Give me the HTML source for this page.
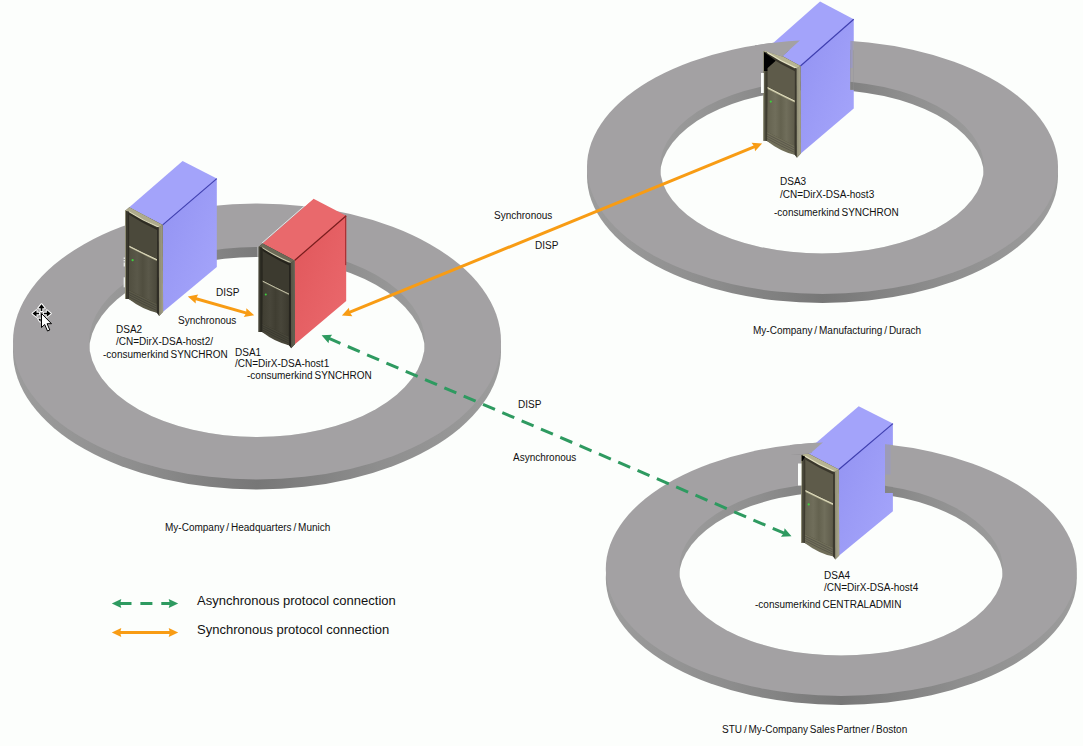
<!DOCTYPE html>
<html><head><meta charset="utf-8"><style>
html,body{margin:0;padding:0;background:#fcfefc;}
svg{display:block;}
text{font-family:"Liberation Sans",sans-serif;fill:#111;}
</style></head><body>
<svg width="1083" height="746" viewBox="0 0 1083 746">
<defs>
<clipPath id="hole_r1"><ellipse cx="257" cy="342" rx="168" ry="95"/></clipPath>
<linearGradient id="wallg_r1" gradientUnits="userSpaceOnUse" x1="13" y1="0" x2="501" y2="0">
  <stop offset="0" stop-color="#9c9c9c"/><stop offset="0.25" stop-color="#8e8e8e"/><stop offset="0.5" stop-color="#777777"/><stop offset="0.75" stop-color="#8e8e8e"/><stop offset="1" stop-color="#9c9c9c"/>
</linearGradient>
<linearGradient id="iwallg_r1" gradientUnits="userSpaceOnUse" x1="89" y1="0" x2="425" y2="0">
  <stop offset="0" stop-color="#9c9c9c"/><stop offset="0.25" stop-color="#8e8e8e"/><stop offset="0.5" stop-color="#7a7a7a"/><stop offset="0.75" stop-color="#8e8e8e"/><stop offset="1" stop-color="#9c9c9c"/>
</linearGradient>
<clipPath id="hole_r2"><ellipse cx="822" cy="167" rx="162" ry="86.5"/></clipPath>
<linearGradient id="wallg_r2" gradientUnits="userSpaceOnUse" x1="587.0" y1="0" x2="1058.0" y2="0">
  <stop offset="0" stop-color="#9c9c9c"/><stop offset="0.25" stop-color="#8e8e8e"/><stop offset="0.5" stop-color="#777777"/><stop offset="0.75" stop-color="#8e8e8e"/><stop offset="1" stop-color="#9c9c9c"/>
</linearGradient>
<linearGradient id="iwallg_r2" gradientUnits="userSpaceOnUse" x1="660" y1="0" x2="984" y2="0">
  <stop offset="0" stop-color="#9c9c9c"/><stop offset="0.25" stop-color="#8e8e8e"/><stop offset="0.5" stop-color="#7a7a7a"/><stop offset="0.75" stop-color="#8e8e8e"/><stop offset="1" stop-color="#9c9c9c"/>
</linearGradient>
<clipPath id="hole_r3"><ellipse cx="841" cy="569" rx="162" ry="86.5"/></clipPath>
<linearGradient id="wallg_r3" gradientUnits="userSpaceOnUse" x1="605.8" y1="0" x2="1076.8" y2="0">
  <stop offset="0" stop-color="#9c9c9c"/><stop offset="0.25" stop-color="#8e8e8e"/><stop offset="0.5" stop-color="#777777"/><stop offset="0.75" stop-color="#8e8e8e"/><stop offset="1" stop-color="#9c9c9c"/>
</linearGradient>
<linearGradient id="iwallg_r3" gradientUnits="userSpaceOnUse" x1="679" y1="0" x2="1003" y2="0">
  <stop offset="0" stop-color="#9c9c9c"/><stop offset="0.25" stop-color="#8e8e8e"/><stop offset="0.5" stop-color="#7a7a7a"/><stop offset="0.75" stop-color="#8e8e8e"/><stop offset="1" stop-color="#9c9c9c"/>
</linearGradient>
<g id="r1">
  <ellipse cx="257" cy="351.5" rx="244" ry="138" fill="url(#wallg_r1)"/>
  <ellipse cx="257" cy="341.5" rx="244" ry="138" fill="#a3a1a3"/>
  <g clip-path="url(#hole_r1)">
    <rect x="87" y="245" width="340" height="194" fill="url(#iwallg_r1)"/>
    <ellipse cx="257" cy="352" rx="168" ry="95" fill="#fcfefc"/>
  </g>
</g>
<g id="r2">
  <ellipse cx="822.5" cy="176" rx="235.5" ry="127" fill="url(#wallg_r2)"/>
  <ellipse cx="822.5" cy="167" rx="235.5" ry="127" fill="#a3a1a3"/>
  <g clip-path="url(#hole_r2)">
    <rect x="658" y="78.5" width="328" height="177.0" fill="url(#iwallg_r2)"/>
    <ellipse cx="822" cy="176" rx="162" ry="86.5" fill="#fcfefc"/>
  </g>
</g>
<g id="r3">
  <ellipse cx="841.3" cy="578" rx="235.5" ry="127" fill="url(#wallg_r3)"/>
  <ellipse cx="841.3" cy="569" rx="235.5" ry="127" fill="#a3a1a3"/>
  <g clip-path="url(#hole_r3)">
    <rect x="677" y="480.5" width="328" height="177.0" fill="url(#iwallg_r3)"/>
    <ellipse cx="841" cy="578" rx="162" ry="86.5" fill="#fcfefc"/>
  </g>
</g>
<clipPath id="cw3"><polygon points="755,30 799.8,30 799.8,40.4 782.1,56.5 763.9,50.6 755,50"/></clipPath>
<clipPath id="cr3"><rect x="850.4" y="30" width="3.4" height="59.7"/></clipPath>
<clipPath id="cw4"><polygon points="790,430 822.8,430 822.8,442.4 810.8,453.1 801.7,454.4 790,454"/></clipPath>
<clipPath id="cr4"><rect x="885.1" y="430" width="7.8" height="63"/></clipPath>
</defs>
<rect width="1083" height="746" fill="#fcfefc"/>
<use href="#r1"/><use href="#r2"/><use href="#r3"/>

<g transform="translate(125.6,209.7) scale(1.0,1.0)">
  <defs><linearGradient id="sideg1" x1="0" y1="0" x2="1" y2="1"><stop offset="0" stop-color="#9292f2"/><stop offset="1" stop-color="#a6a6fb"/></linearGradient>
  <linearGradient id="lowg1" x1="0" y1="0" x2="1" y2="0"><stop offset="0" stop-color="#504e3f"/><stop offset="0.3" stop-color="#5a5849"/><stop offset="0.5" stop-color="#504e3f"/><stop offset="0.7" stop-color="#5a5849"/><stop offset="1" stop-color="#4b493b"/></linearGradient>
  <linearGradient id="colRg1" x1="0" y1="0" x2="1" y2="0"><stop offset="0" stop-color="#8a8771"/><stop offset="1" stop-color="#a29f85"/></linearGradient></defs>
  <polygon points="3.7,-2.5 57,-48.7 91.2,-31.1 37.1,15.2" fill="#a3a3fa"/>
  
  <polygon points="37.1,15.2 91.2,-31.1 91.2,57.3 37.5,102" fill="url(#sideg1)"/>
  <line x1="37.1" y1="15.2" x2="91.2" y2="-31.1" stroke="#3e3eb0" stroke-width="1.2"/>
  
  <polygon points="-0.3,1 3.7,-2.5 37.1,15.2 37.5,102 33.5,106.2 31.2,103 3.1,89.4 -0.6,89.3" fill="#3a382d"/>
  <polygon points="3.3,2.5 32,18 31.5,50.8 3.8,37.2" fill="#4b493b"/>
  <path d="M3.5,2.8 Q17,11.4 32,18.3 L32,20.6 Q17,13.7 3.5,5.1 Z" fill="#2e2c23"/>
  <polygon points="3.8,37.2 31.3,50.8 31,94.1 3.1,80.4" fill="url(#lowg1)"/>
  <path d="M3.1,80.4 L31,94.1 L31.2,103 Q17,100 3.1,89.4 Z" fill="#5a5847"/>
  <g stroke="#44423a" stroke-width="0.8" fill="none">
    <path d="M3.1,82.6 L31,96.3"/><path d="M3.1,84.8 Q17,92 31,98.5"/><path d="M3.1,87 Q17,94.5 31,100.7"/>
  </g>
  <path d="M-0.3,1 L3.7,-2.5 L37.1,15.2 L33.5,17.6 Q17,10.6 3.3,1.8 Z" fill="#aeab8c"/>
  <path d="M3.3,1.9 Q17,10.7 33.3,17.6" stroke="#e6e3c5" stroke-width="1.1" fill="none"/>
  <polygon points="31.4,17.5 33.2,17.3 33.2,104.5 31.4,103" fill="#2f2d25"/>
  <polygon points="33.2,17.3 37.1,15.2 37.5,102 33.5,106.2" fill="url(#colRg1)"/>
  <polygon points="-0.6,1 0.4,0.2 0.4,89.3 -0.6,89.3" fill="#8c8a72"/>
  <polygon points="2.6,2 3.5,2.6 3.3,89.4 2.6,89.4" fill="#2e2c23"/>
  <path d="M3.8,36.2 Q17,43 31.3,49.6 L31.3,51.3 Q17,44.5 3.8,37.9 Z" fill="#aeab8c"/>
  <path d="M3.8,36.6 Q17,43.4 31.3,50" stroke="#e6e3c5" stroke-width="0.9" fill="none"/>
  <circle cx="7" cy="50.5" r="1.1" fill="#3cd23c"/>
</g>

<g transform="translate(259.1,245.8) scale(0.955,0.965)">
  <defs><linearGradient id="sideg2" x1="0" y1="0" x2="1" y2="1"><stop offset="0" stop-color="#e0565a"/><stop offset="1" stop-color="#eb6a6e"/></linearGradient>
  <linearGradient id="lowg2" x1="0" y1="0" x2="1" y2="0"><stop offset="0" stop-color="#403e32"/><stop offset="0.3" stop-color="#48463a"/><stop offset="0.5" stop-color="#403e32"/><stop offset="0.7" stop-color="#48463a"/><stop offset="1" stop-color="#3c3a2f"/></linearGradient>
  <linearGradient id="colRg2" x1="0" y1="0" x2="1" y2="0"><stop offset="0" stop-color="#555446"/><stop offset="1" stop-color="#646352"/></linearGradient></defs>
  <polygon points="3.7,-2.5 57,-48.7 91.2,-31.1 37.1,15.2" fill="#e9696c"/>
  <line x1="3" y1="-2.8" x2="56.5" y2="-49" stroke="#ffffff" stroke-opacity="0.75" stroke-width="1"/><line x1="-1.1" y1="1" x2="-1.1" y2="13" stroke="#ffffff" stroke-opacity="0.8" stroke-width="1"/>
  <polygon points="37.1,15.2 91.2,-31.1 91.2,57.3 37.5,102" fill="url(#sideg2)"/>
  <line x1="37.1" y1="15.2" x2="91.2" y2="-31.1" stroke="#7a1c1c" stroke-width="1.3"/>
  <line x1="90.7" y1="-31" x2="90.7" y2="20" stroke="#9a2226" stroke-width="1"/>
  <polygon points="-0.3,1 3.7,-2.5 37.1,15.2 37.5,102 33.5,106.2 31.2,103 3.1,89.4 -0.6,89.3" fill="#2e2d24"/>
  <polygon points="3.3,2.5 32,18 31.5,50.8 3.8,37.2" fill="#3c3a2f"/>
  <path d="M3.5,2.8 Q17,11.4 32,18.3 L32,20.6 Q17,13.7 3.5,5.1 Z" fill="#25231c"/>
  <polygon points="3.8,37.2 31.3,50.8 31,94.1 3.1,80.4" fill="url(#lowg2)"/>
  <path d="M3.1,80.4 L31,94.1 L31.2,103 Q17,100 3.1,89.4 Z" fill="#484639"/>
  <g stroke="#36352e" stroke-width="0.8" fill="none">
    <path d="M3.1,82.6 L31,96.3"/><path d="M3.1,84.8 Q17,92 31,98.5"/><path d="M3.1,87 Q17,94.5 31,100.7"/>
  </g>
  <path d="M-0.3,1 L3.7,-2.5 L37.1,15.2 L33.5,17.6 Q17,10.6 3.3,1.8 Z" fill="#6c6a57"/>
  <path d="M3.3,1.9 Q17,10.7 33.3,17.6" stroke="#cfccb1" stroke-width="1.1" fill="none"/>
  <polygon points="31.4,17.5 33.2,17.3 33.2,104.5 31.4,103" fill="#26241e"/>
  <polygon points="33.2,17.3 37.1,15.2 37.5,102 33.5,106.2" fill="url(#colRg2)"/>
  <polygon points="-0.6,1 0.4,0.2 0.4,89.3 -0.6,89.3" fill="#575647"/>
  <polygon points="2.6,2 3.5,2.6 3.3,89.4 2.6,89.4" fill="#25231c"/>
  <path d="M3.8,36.2 Q17,43 31.3,49.6 L31.3,51.3 Q17,44.5 3.8,37.9 Z" fill="#6c6a57"/>
  <path d="M3.8,36.6 Q17,43.4 31.3,50" stroke="#cfccb1" stroke-width="0.9" fill="none"/>
  <circle cx="7" cy="50.5" r="1.1" fill="#3cd23c"/>
</g>

<g transform="translate(763.9,50.6) scale(0.985,1.01)">
  <defs><linearGradient id="sideg3" x1="0" y1="0" x2="1" y2="1"><stop offset="0" stop-color="#9292f2"/><stop offset="1" stop-color="#a6a6fb"/></linearGradient>
  <linearGradient id="lowg3" x1="0" y1="0" x2="1" y2="0"><stop offset="0" stop-color="#64624f"/><stop offset="0.3" stop-color="#706e5b"/><stop offset="0.5" stop-color="#64624f"/><stop offset="0.7" stop-color="#706e5b"/><stop offset="1" stop-color="#5e5b4a"/></linearGradient>
  <linearGradient id="colRg3" x1="0" y1="0" x2="1" y2="0"><stop offset="0" stop-color="#908e77"/><stop offset="1" stop-color="#aaa78c"/></linearGradient></defs>
  <polygon points="3.7,-2.5 57,-48.7 91.2,-31.1 37.1,15.2" fill="#a3a3fa"/>
  
  <polygon points="37.1,15.2 91.2,-31.1 91.2,57.3 37.5,102" fill="url(#sideg3)"/>
  <line x1="37.1" y1="15.2" x2="91.2" y2="-31.1" stroke="#3e3eb0" stroke-width="1.2"/>
  
  <polygon points="-0.3,1 3.7,-2.5 37.1,15.2 37.5,102 33.5,106.2 31.2,103 3.1,89.4 -0.6,89.3" fill="#484638"/>
  <polygon points="3.3,2.5 32,18 31.5,50.8 3.8,37.2" fill="#5e5b4a"/>
  <path d="M3.5,2.8 Q17,11.4 32,18.3 L32,20.6 Q17,13.7 3.5,5.1 Z" fill="#3a372c"/>
  <polygon points="3.8,37.2 31.3,50.8 31,94.1 3.1,80.4" fill="url(#lowg3)"/>
  <path d="M3.1,80.4 L31,94.1 L31.2,103 Q17,100 3.1,89.4 Z" fill="#706e59"/>
  <g stroke="#555248" stroke-width="0.8" fill="none">
    <path d="M3.1,82.6 L31,96.3"/><path d="M3.1,84.8 Q17,92 31,98.5"/><path d="M3.1,87 Q17,94.5 31,100.7"/>
  </g>
  <path d="M-0.3,1 L3.7,-2.5 L37.1,15.2 L33.5,17.6 Q17,10.6 3.3,1.8 Z" fill="#b7b493"/>
  <path d="M3.3,1.9 Q17,10.7 33.3,17.6" stroke="#e6e3c5" stroke-width="1.1" fill="none"/>
  <polygon points="31.4,17.5 33.2,17.3 33.2,104.5 31.4,103" fill="#3b382e"/>
  <polygon points="33.2,17.3 37.1,15.2 37.5,102 33.5,106.2" fill="url(#colRg3)"/>
  <polygon points="-0.6,1 0.4,0.2 0.4,89.3 -0.6,89.3" fill="#939178"/>
  <polygon points="2.6,2 3.5,2.6 3.3,89.4 2.6,89.4" fill="#3a372c"/>
  <path d="M3.8,36.2 Q17,43 31.3,49.6 L31.3,51.3 Q17,44.5 3.8,37.9 Z" fill="#b7b493"/>
  <path d="M3.8,36.6 Q17,43.4 31.3,50" stroke="#e6e3c5" stroke-width="0.9" fill="none"/>
  <circle cx="7" cy="50.5" r="1.1" fill="#3cd23c"/>
</g>

<g transform="translate(801.7,454.4) scale(1.0,0.99)">
  <defs><linearGradient id="sideg4" x1="0" y1="0" x2="1" y2="1"><stop offset="0" stop-color="#9292f2"/><stop offset="1" stop-color="#a6a6fb"/></linearGradient>
  <linearGradient id="lowg4" x1="0" y1="0" x2="1" y2="0"><stop offset="0" stop-color="#64624f"/><stop offset="0.3" stop-color="#706e5b"/><stop offset="0.5" stop-color="#64624f"/><stop offset="0.7" stop-color="#706e5b"/><stop offset="1" stop-color="#5e5b4a"/></linearGradient>
  <linearGradient id="colRg4" x1="0" y1="0" x2="1" y2="0"><stop offset="0" stop-color="#908e77"/><stop offset="1" stop-color="#aaa78c"/></linearGradient></defs>
  <polygon points="3.7,-2.5 57,-48.7 91.2,-31.1 37.1,15.2" fill="#a3a3fa"/>
  
  <polygon points="37.1,15.2 91.2,-31.1 91.2,57.3 37.5,102" fill="url(#sideg4)"/>
  <line x1="37.1" y1="15.2" x2="91.2" y2="-31.1" stroke="#3e3eb0" stroke-width="1.2"/>
  
  <polygon points="-0.3,1 3.7,-2.5 37.1,15.2 37.5,102 33.5,106.2 31.2,103 3.1,89.4 -0.6,89.3" fill="#484638"/>
  <polygon points="3.3,2.5 32,18 31.5,50.8 3.8,37.2" fill="#5e5b4a"/>
  <path d="M3.5,2.8 Q17,11.4 32,18.3 L32,20.6 Q17,13.7 3.5,5.1 Z" fill="#3a372c"/>
  <polygon points="3.8,37.2 31.3,50.8 31,94.1 3.1,80.4" fill="url(#lowg4)"/>
  <path d="M3.1,80.4 L31,94.1 L31.2,103 Q17,100 3.1,89.4 Z" fill="#706e59"/>
  <g stroke="#555248" stroke-width="0.8" fill="none">
    <path d="M3.1,82.6 L31,96.3"/><path d="M3.1,84.8 Q17,92 31,98.5"/><path d="M3.1,87 Q17,94.5 31,100.7"/>
  </g>
  <path d="M-0.3,1 L3.7,-2.5 L37.1,15.2 L33.5,17.6 Q17,10.6 3.3,1.8 Z" fill="#b7b493"/>
  <path d="M3.3,1.9 Q17,10.7 33.3,17.6" stroke="#e6e3c5" stroke-width="1.1" fill="none"/>
  <polygon points="31.4,17.5 33.2,17.3 33.2,104.5 31.4,103" fill="#3b382e"/>
  <polygon points="33.2,17.3 37.1,15.2 37.5,102 33.5,106.2" fill="url(#colRg4)"/>
  <polygon points="-0.6,1 0.4,0.2 0.4,89.3 -0.6,89.3" fill="#939178"/>
  <polygon points="2.6,2 3.5,2.6 3.3,89.4 2.6,89.4" fill="#3a372c"/>
  <path d="M3.8,36.2 Q17,43 31.3,49.6 L31.3,51.3 Q17,44.5 3.8,37.9 Z" fill="#b7b493"/>
  <path d="M3.8,36.6 Q17,43.4 31.3,50" stroke="#e6e3c5" stroke-width="0.9" fill="none"/>
  <circle cx="7" cy="50.5" r="1.1" fill="#3cd23c"/>
</g>
<rect x="123.7" y="257.5" width="1.1" height="1.4" fill="#fcfefc"/><rect x="123.7" y="260" width="1.1" height="1.4" fill="#fcfefc"/><rect x="123.7" y="262.5" width="1.1" height="4" fill="#fcfefc"/><rect x="123.7" y="277.3" width="1.1" height="10" fill="#fcfefc"/>
<use href="#r2" clip-path="url(#cw3)"/>
<use href="#r2" clip-path="url(#cr3)"/>
<rect x="850.4" y="41" width="2.2" height="27" fill="#8f8fe8" fill-opacity="0.45"/>
<polygon points="764,52 775.7,60.8 767.4,68.3 767.4,71 764,71" fill="#000"/>
<rect x="761" y="73" width="2.8" height="20" fill="#fcfefc"/>
<use href="#r3" clip-path="url(#cw4)"/>
<use href="#r3" clip-path="url(#cr4)"/>
<rect x="885.1" y="444.5" width="5.5" height="30" fill="#8f8fe8" fill-opacity="0.3"/>
<polygon points="801.7,455 805,457 802.5,461 801.7,461" fill="#000"/>
<rect x="798" y="463.5" width="3.4" height="22" fill="#fcfefc"/>
<line x1="193.57" y1="298.04" x2="248.43" y2="313.66" stroke="#f89c14" stroke-width="3"/><polygon points="0,0 -9.5,-4.6 -8.3,0 -9.5,4.6" fill="#f89c14" transform="translate(254.2,315.3) rotate(15.888)"/><polygon points="0,0 -9.5,-4.6 -8.3,0 -9.5,4.6" fill="#f89c14" transform="translate(187.8,296.4) rotate(195.888)"/><line x1="347.45" y1="313.23" x2="756.55" y2="145.77" stroke="#f89c14" stroke-width="3"/><polygon points="0,0 -9.5,-4.6 -8.3,0 -9.5,4.6" fill="#f89c14" transform="translate(762.1,143.5) rotate(-22.261)"/><polygon points="0,0 -9.5,-4.6 -8.3,0 -9.5,4.6" fill="#f89c14" transform="translate(341.9,315.5) rotate(157.739)"/><line x1="791.50" y1="536.30" x2="321.60" y2="335.30" stroke="#2e9a60" stroke-width="3" stroke-dasharray="13 8.01" stroke-dashoffset="13.62"/><polygon points="0,0 -9.5,-4.6 -8.3,0 -9.5,4.6" fill="#2e9a60" transform="translate(791.5,536.3) rotate(23.159)"/><polygon points="0,0 -9.5,-4.6 -8.3,0 -9.5,4.6" fill="#2e9a60" transform="translate(321.6,335.3) rotate(203.159)"/><line x1="178.20" y1="603.50" x2="111.80" y2="603.50" stroke="#2e9a60" stroke-width="3" stroke-dasharray="12 8.9" stroke-dashoffset="16.0"/><polygon points="0,0 -9.5,-4.6 -8.3,0 -9.5,4.6" fill="#2e9a60" transform="translate(178.2,603.5) rotate(0.000)"/><polygon points="0,0 -9.5,-4.6 -8.3,0 -9.5,4.6" fill="#2e9a60" transform="translate(111.8,603.5) rotate(180.000)"/><line x1="117.80" y1="632.50" x2="172.20" y2="632.50" stroke="#f89c14" stroke-width="3"/><polygon points="0,0 -9.5,-4.6 -8.3,0 -9.5,4.6" fill="#f89c14" transform="translate(178.2,632.5) rotate(0.000)"/><polygon points="0,0 -9.5,-4.6 -8.3,0 -9.5,4.6" fill="#f89c14" transform="translate(111.8,632.5) rotate(180.000)"/>
<text x="494" y="219" font-size="10" word-spacing="-0.9">Synchronous</text><text x="535" y="249" font-size="10" word-spacing="-0.9">DISP</text><text x="216" y="296" font-size="10" word-spacing="-0.9">DISP</text><text x="178" y="324" font-size="10" word-spacing="-0.9">Synchronous</text><text x="116" y="333" font-size="10" word-spacing="-0.9">DSA2</text><text x="116" y="344.5" font-size="10" word-spacing="-0.9">/CN=DirX-DSA-host2/</text><text x="103" y="358" font-size="10" word-spacing="-0.9">-consumerkind SYNCHRON</text><text x="235" y="356" font-size="10" word-spacing="-0.9">DSA1</text><text x="235" y="367" font-size="10" word-spacing="-0.9">/CN=DirX-DSA-host1</text><text x="247" y="379" font-size="10" word-spacing="-0.9">-consumerkind SYNCHRON</text><text x="780" y="185" font-size="10" word-spacing="-0.9">DSA3</text><text x="780" y="197.5" font-size="10" word-spacing="-0.9">/CN=DirX-DSA-host3</text><text x="774" y="216" font-size="10" word-spacing="-0.9">-consumerkind SYNCHRON</text><text x="753" y="334" font-size="10" word-spacing="-0.9">My-Company / Manufacturing / Durach</text><text x="518" y="408" font-size="10" word-spacing="-0.9">DISP</text><text x="513" y="461" font-size="10" word-spacing="-0.9">Asynchronous</text><text x="165" y="531" font-size="10" word-spacing="-0.9">My-Company / Headquarters / Munich</text><text x="824" y="579" font-size="10" word-spacing="-0.9">DSA4</text><text x="824" y="591" font-size="10" word-spacing="-0.9">/CN=DirX-DSA-host4</text><text x="755" y="608" font-size="10" word-spacing="-0.9">-consumerkind CENTRALADMIN</text><text x="722" y="733" font-size="10" word-spacing="-0.9">STU / My-Company Sales Partner / Boston</text><text x="197" y="605" font-size="13">Asynchronous protocol connection</text><text x="197" y="634" font-size="13">Synchronous protocol connection</text>

<g transform="translate(41.5,313.5)">
  <g fill="#000" stroke="#fff" stroke-width="2" stroke-linejoin="round" paint-order="stroke">
    <path d="M0,-9.3 L3.2,-5.3 L0.8,-5.3 L0.8,-2.6 L-0.8,-2.6 L-0.8,-5.3 L-3.2,-5.3 Z"/>
    <path d="M-9,0 L-5,-3.2 L-5,-0.8 L-2.4,-0.8 L-2.4,0.8 L-5,0.8 L-5,3.2 Z"/>
    <path d="M9.3,0 L5.3,-3.2 L5.3,-0.8 L2.4,-0.8 L2.4,0.8 L5.3,0.8 L5.3,3.2 Z"/>
    <path d="M-3.2,5.2 L-0.8,5.2 L-0.8,8 L-1.5,8 Z"/>
  </g>
  <path d="M0,0 L0,14 L3.2,11 L6,17.5 L8.3,16.5 L5.6,10.2 L10,10.2 Z" fill="#fff" stroke="#000" stroke-width="1"/>
</g>
</svg>
</body></html>
